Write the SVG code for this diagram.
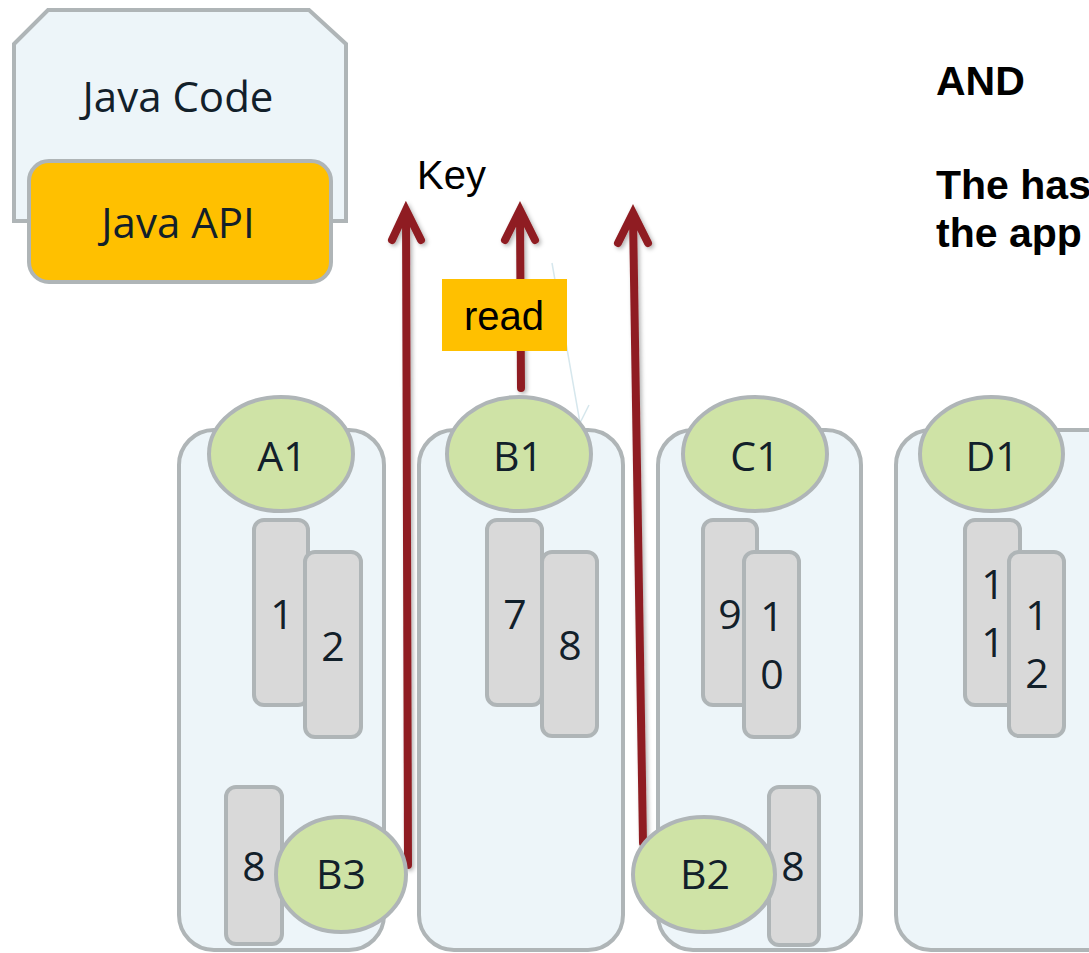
<svg xmlns="http://www.w3.org/2000/svg" width="1089" height="953" viewBox="0 0 1089 953">
<defs>
<style>
.server{fill:#edf5f9;stroke:#afb5b7;stroke-width:4}
.key{fill:#cfe3a6;stroke:#afb5b7;stroke-width:4}
.part{fill:#d9d9d9;stroke:#afb5b7;stroke-width:4}
.lbl{font-family:"Open Sans","Noto Sans",sans-serif;font-size:41px;fill:#12202a;text-anchor:middle}
.big{font-family:"Open Sans","Noto Sans",sans-serif;font-size:42px;fill:#12202a;text-anchor:middle}
.arial{font-family:"Liberation Sans",Arial,sans-serif;font-size:40px;fill:#000}
.bold{font-family:"Liberation Sans",Arial,sans-serif;font-size:41px;font-weight:bold;fill:#000}
.arr{fill:none;stroke:#8f1f23;stroke-width:8;stroke-linecap:round;stroke-linejoin:miter;filter:url(#sh)}
.faint{fill:none;stroke:#d6e7ed;stroke-width:1.5}
</style>
<filter id="sh" x="-50%" y="-10%" width="200%" height="120%">
<feDropShadow dx="2" dy="2" stdDeviation="2" flood-color="#000" flood-opacity="0.3"/>
</filter>
</defs>

<g id="java-code">
<polygon points="14,44 48,10 309,10 346,44 346,221 14,221" fill="#edf5f9" stroke="#afb5b7" stroke-width="4"/>
<text class="big" x="178" y="112">Java Code</text>
</g>
<g id="java-api">
<rect x="29" y="161" width="302" height="121" rx="20" fill="#ffc000" stroke="#afb5b7" stroke-width="4"/>
<text class="big" x="178" y="238">Java API</text>
</g>

<g id="key-label"><text class="arial" x="417" y="189">Key</text></g>

<g id="note">
<text class="bold" x="936" y="95">AND</text>
<text class="bold" x="936" y="199">The has</text>
<text class="bold" x="936" y="247">the app</text>
</g>

<g id="connectors">
<path class="arr" d="M408,865 L406,212 M392,240 L406,210 L421,240"/>
<path class="arr" d="M521,388 L520,212 M505,240 L520,210 L535,240"/>
<path class="arr" d="M643,843 L633,216 M618,243 L633,213 L648,243"/>
<path class="arr" d="M570,550 L570,502 M557,525 L570,500 L583,525"/>
<path class="faint" d="M552,263 L580,423 L589,405"/>
</g>

<g id="read-label">
<rect x="442" y="279" width="125" height="72" fill="#ffc000"/>
<text class="arial" x="504" y="330" text-anchor="middle">read</text>
</g>

<g id="server-A">
<rect class="server" x="179" y="430" width="205" height="520" rx="35"/>
<ellipse class="key" cx="281" cy="454" rx="72" ry="57"/>
<text class="lbl" x="282" y="471">A1</text>
<rect class="part" x="254" y="520" width="54" height="185" rx="10"/>
<text class="lbl" x="282" y="629">1</text>
<rect class="part" x="305" y="552" width="56" height="185" rx="10"/>
<text class="lbl" x="333" y="661">2</text>
<rect class="part" x="226" y="787" width="56" height="157" rx="10"/>
<text class="lbl" x="254" y="881">8</text>
<ellipse class="key" cx="341" cy="874.5" rx="65" ry="57.5"/>
<text class="lbl" x="341" y="889">B3</text>
</g>

<g id="server-B">
<rect class="server" x="419" y="430" width="204" height="520" rx="35"/>
<ellipse class="key" cx="519" cy="454" rx="72" ry="57"/>
<text class="lbl" x="518" y="471">B1</text>
<rect class="part" x="487" y="520" width="55" height="185" rx="10"/>
<text class="lbl" x="515" y="629">7</text>
<rect class="part" x="542" y="552" width="55" height="184" rx="10"/>
<text class="lbl" x="570" y="660">8</text>
</g>

<g id="server-C">
<rect class="server" x="658" y="430" width="203" height="520" rx="35"/>
<ellipse class="key" cx="755" cy="454" rx="72" ry="57"/>
<text class="lbl" x="755" y="471">C1</text>
<rect class="part" x="703" y="520" width="54" height="185" rx="10"/>
<text class="lbl" x="730" y="629">9</text>
<rect class="part" x="744" y="552" width="55" height="185" rx="10"/>
<text class="lbl" x="772" y="631">1</text>
<text class="lbl" x="772" y="689">0</text>
<rect class="part" x="769" y="787" width="50" height="158" rx="10"/>
<text class="lbl" x="793" y="881">8</text>
<ellipse class="key" cx="704" cy="874.5" rx="71" ry="57.5"/>
<text class="lbl" x="705" y="889">B2</text>
</g>

<g id="server-D">
<rect class="server" x="896" y="430" width="250" height="520" rx="35"/>
<ellipse class="key" cx="991.5" cy="454" rx="71.5" ry="57"/>
<text class="lbl" x="992" y="471">D1</text>
<rect class="part" x="965" y="520" width="55" height="185" rx="10"/>
<text class="lbl" x="993" y="599">1</text>
<text class="lbl" x="993" y="657">1</text>
<rect class="part" x="1009" y="552" width="55" height="184" rx="10"/>
<text class="lbl" x="1037" y="630">1</text>
<text class="lbl" x="1037" y="688">2</text>
</g>
</svg>
